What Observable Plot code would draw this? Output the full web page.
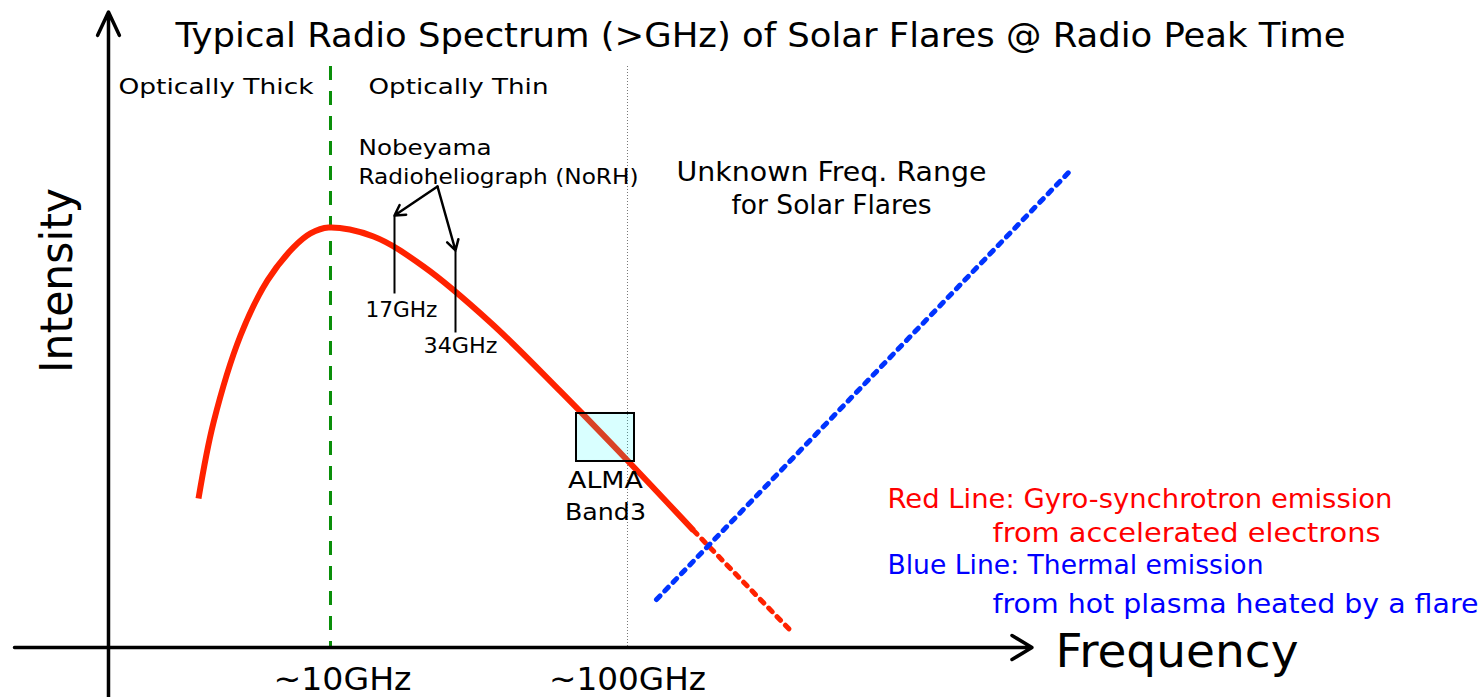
<!DOCTYPE html>
<html>
<head>
<meta charset="utf-8">
<script src="https://cdn.jsdelivr.net/npm/d3@7"></script>
<script src="https://cdn.jsdelivr.net/npm/@observablehq/plot@0.6"></script>
<style>
  html, body { margin: 0; padding: 0; background: #fff; overflow: hidden; }
</style>
</head>
<body>
<div id="chart"></div>
<script>
// x: schematic position on a log-frequency axis (1 = ~10 GHz, 2 = ~100 GHz)
// y: intensity in arbitrary units (0 = frequency axis)

// Gyro-synchrotron spectrum (red, solid part)
const gyroX = [0.5556, 0.6061, 0.6970, 0.7879, 0.8754, 0.9327, 0.9933, 1.1448, 1.3131, 1.5387, 1.7744, 2.0000, 2.2222];
const gyroY = [24.83, 37.50, 52.00, 61.17, 66.67, 69.00, 70.00, 68.50, 63.50, 54.17, 42.67, 31.17, 19.50];
// extrapolated part (red, dotted)
const gyroTailX = [2.2222, 2.5488];
const gyroTailY = [19.50, 2.83];
// Thermal emission (blue, dotted)
const thermalX = [2.0976, 3.4916];
const thermalY = [8.00, 79.50];

// Turnover frequency (~10 GHz) and ~100 GHz guide
const turnoverX = [1.0];
const guideX = [2.0];
const guideTop = 96.83;

// ALMA Band 3 window
const almaX = [1.8283, 2.0236];
const almaY = [31.0, 39.0];

// NoRH observing frequencies (marker lines)
const norhX = [1.2155, 1.4209];
const norhTop = [72.0, 66.17];
const norhBottom = [59.0, 52.5];
const norhLabels = ["17GHz", "34GHz"];
const norhLabelX = [1.1178, 1.3131];
const norhLabelY = [55.0, 49.0];
const norhSourceX = 1.3603, norhSourceY = 76.83;

// Axes
const yAxisX = 0.2525, yAxisBottom = -8.333, yAxisTop = 105.9;
const xAxisLeft = -0.0640, xAxisRight = 3.362;

// Texts
const titleText = "Typical Radio Spectrum (>GHz) of Solar Flares @ Radio Peak Time";
const regionLabels = ["Optically Thick", "Optically Thin"];
const regionX = [0.2862, 1.1279];
const regionY = 92.33;
const tickLabels = ["~10GHz", "~100GHz"];
const tickX = [1.0404, 2.0];
const tickY = -7.0;
const norhTitle = ["Nobeyama", "Radioheliograph (NoRH)"];
const norhTitleY = [82.0, 77.33];
const norhTitleX = 1.0943;
const almaLabel = ["ALMA", "Band3"];
const almaLabelY = [26.5, 21.17];
const almaLabelX = 1.9259;
const unknownLabel = ["Unknown Freq. Range", "for Solar Flares"];
const unknownLabelY = [77.83, 72.33];
const unknownLabelX = 2.6869;
const legendRed = ["Red Line: Gyro-synchrotron emission", "from accelerated electrons"];
const legendBlue = ["Blue Line: Thermal emission", "from hot plasma heated by a flare"];
const legendX = [2.8754, 3.2290];
const legendRedY = [23.33, 17.5];
const legendBlueY = [12.17, 5.83];

const pts = (xs, ys) => xs.map((x, i) => ({x, y: ys[i]}));
const rows = (texts, xs, ys) => texts.map((t, i) => ({
  text: t,
  x: Array.isArray(xs) ? xs[i] : xs,
  y: Array.isArray(ys) ? ys[i] : ys
}));

const FONT = "DejaVu Sans";
const txt = (data, o) => Plot.text(data, {x: "x", y: "y", text: "text", lineAnchor: "bottom", fontFamily: FONT, ...o});

const chart = Plot.plot({
  width: 1483,
  height: 697,
  margin: 0,
  x: {domain: [-0.1111, 4.8822], range: [0, 1483], axis: null},
  y: {domain: [-8.333, 107.83], range: [697, 0], axis: null},
  style: {fontFamily: FONT, background: "white", color: "black"},
  marks: [
    Plot.ruleX(guideX, {x: d => d, y1: guideTop, y2: -0.67, stroke: "#777", strokeWidth: 1, strokeDasharray: "1,2"}),
    Plot.ruleX(turnoverX, {x: d => d, y1: guideTop, y2: 0, stroke: "#0a8f0a", strokeWidth: 3, strokeDasharray: "14,11"}),
    Plot.line(pts(gyroX, gyroY), {x: "x", y: "y", curve: "catmull-rom", stroke: "#ff2200", strokeWidth: 6, strokeLinecap: "butt"}),
    Plot.line(pts(gyroTailX, gyroTailY), {x: "x", y: "y", stroke: "#ff2200", strokeWidth: 5, strokeDasharray: "5,7"}),
    Plot.line(pts(thermalX, thermalY), {x: "x", y: "y", stroke: "#0033ff", strokeWidth: 5, strokeDasharray: "5,7"}),
    Plot.rect([{x1: almaX[0], x2: almaX[1], y1: almaY[0], y2: almaY[1]}], {x1: "x1", x2: "x2", y1: "y1", y2: "y2", fill: "#00ffff", fillOpacity: 0.15, stroke: "black", strokeWidth: 2}),
    Plot.arrow([0], {x1: yAxisX, x2: yAxisX, y1: yAxisBottom, y2: yAxisTop, stroke: "black", strokeWidth: 3.5, headLength: 11, headAngle: 50}),
    Plot.arrow([0], {x1: xAxisLeft, x2: xAxisRight, y1: 0, y2: 0, stroke: "black", strokeWidth: 3.5, headLength: 10, headAngle: 62}),
    Plot.link(norhX.map((x, i) => ({x, t: norhTop[i], b: norhBottom[i]})), {x1: "x", x2: "x", y1: "t", y2: "b", stroke: "black", strokeWidth: 2}),
    Plot.arrow(norhX.map((x, i) => ({x, t: norhTop[i]})), {x1: () => norhSourceX, y1: () => norhSourceY, x2: "x", y2: "t", stroke: "black", strokeWidth: 2.5, headLength: 7, headAngle: 60}),
    txt([{text: titleText, x: 2.4478, y: 100.0}], {textAnchor: "middle", fontSize: 34}),
    txt(rows(regionLabels, regionX, regionY), {textAnchor: "start", fontSize: 21}),
    txt(rows(norhTitle, norhTitleX, norhTitleY), {textAnchor: "start", fontSize: 21}),
    txt(rows(norhLabels, norhLabelX, norhLabelY), {textAnchor: "start", fontSize: 21}),
    txt(rows(almaLabel, almaLabelX, almaLabelY), {textAnchor: "middle", fontSize: 23}),
    txt(rows(unknownLabel, unknownLabelX, unknownLabelY), {textAnchor: "middle", fontSize: 27}),
    txt(rows(legendRed, legendX, legendRedY), {textAnchor: "start", fontSize: 27, fill: "#ff0000"}),
    txt(rows(legendBlue, legendX, legendBlueY), {textAnchor: "start", fontSize: 27, fill: "#0000ff"}),
    txt(rows(tickLabels, tickX, tickY), {textAnchor: "middle", fontSize: 32}),
    txt([{text: "Frequency", x: 3.4411, y: -3.33}], {textAnchor: "start", fontSize: 46}),
    txt([{text: "Intensity", x: 0.1313, y: 61.17}], {textAnchor: "middle", fontSize: 44, rotate: -90})
  ]
});

// Stretch the (narrower) fallback font to the widths of the original lettering
const textWidths = new Map([
  [titleText, 1170],
  ["Optically Thick", 195], ["Optically Thin", 180],
  ["Nobeyama", 133], ["Radioheliograph (NoRH)", 280],
  ["17GHz", 72], ["34GHz", 74],
  ["ALMA", 75], ["Band3", 81],
  ["Unknown Freq. Range", 310], ["for Solar Flares", 200],
  ["Red Line: Gyro-synchrotron emission", 505], ["from accelerated electrons", 388],
  ["Blue Line: Thermal emission", 376], ["from hot plasma heated by a flare", 486],
  ["~10GHz", 138], ["~100GHz", 157],
  ["Frequency", 243], ["Intensity", 185]
]);
chart.querySelectorAll("text").forEach(t => {
  const w = textWidths.get(t.textContent);
  if (w) {
    t.setAttribute("textLength", w);
    t.setAttribute("lengthAdjust", "spacingAndGlyphs");
  }
});
document.getElementById("chart").appendChild(chart);
</script>
</body>
</html>
